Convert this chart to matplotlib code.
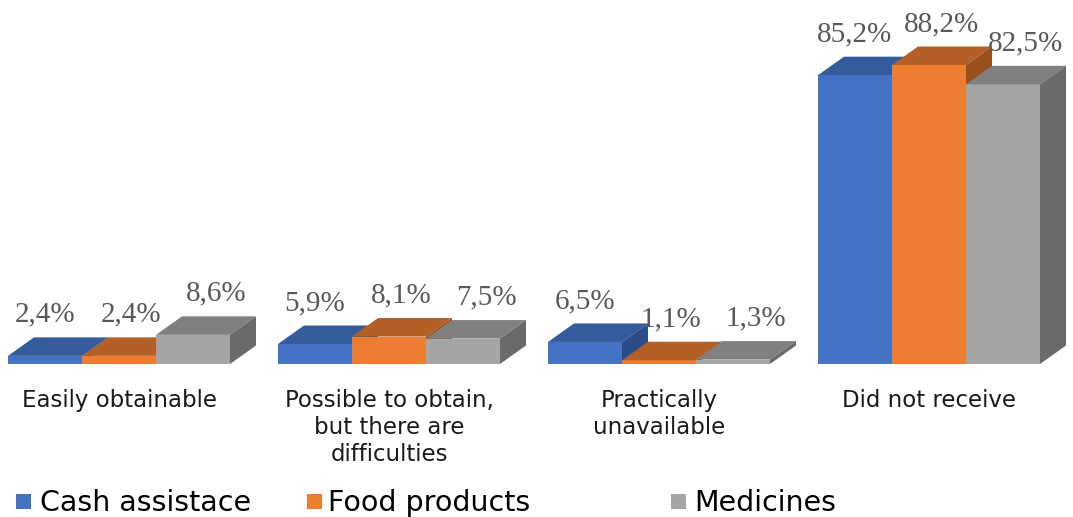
import matplotlib.pyplot as plt
from matplotlib.patches import Polygon, Rectangle

# dane z wykresu
kategorie = ['Easily obtainable', 'Possible to obtain,\nbut there are\ndifficulties',
             'Practically\nunavailable', 'Did not receive']
serie = ['Cash assistace', 'Food products', 'Medicines']
cash = [2.4, 5.9, 6.5, 85.2]
food = [2.4, 8.1, 1.1, 88.2]
medicines = [8.6, 7.5, 1.3, 82.5]
etykiety_cash = ['2,4%', '5,9%', '6,5%', '85,2%']
etykiety_food = ['2,4%', '8,1%', '1,1%', '88,2%']
etykiety_med = ['8,6%', '7,5%', '1,3%', '82,5%']

wartosci = [cash, food, medicines]
etykiety = [etykiety_cash, etykiety_food, etykiety_med]

# kolory: przód, góra, bok
kolory = [('#4472C4', '#345C9C', '#2C4C87'),
          ('#ED7D31', '#B45F25', '#9A501D'),
          ('#A5A5A5', '#808080', '#6A6A6A')]

szer = 74 / 270          # szerokość słupka
dx = 26 / 270            # głębokość 3D w poziomie
dy = 18.5 / 3.39         # głębokość 3D w pionie (w %)
przes_etykiet = [0.0, 0.045, 0.085]

fig = plt.figure(figsize=(10.73, 5.17), dpi=100)
ax = fig.add_axes([0, 0, 1, 1])
ax.set_xlim(-119 / 270, (1073 - 119) / 270)
ax.set_ylim(-(517 - 364) / 3.39, 364 / 3.39)
ax.axis('off')

for s in range(3):
    front, gora, bok = kolory[s]
    z = 2 + s
    xs = [i + (s - 1) * szer for i in range(len(kategorie))]
    ax.bar(xs, wartosci[s], width=szer, color=front, zorder=z, linewidth=0)
    for x, h, lab in zip(xs, wartosci[s], etykiety[s]):
        x0, x1 = x - szer / 2, x + szer / 2
        ax.add_patch(Polygon([(x0, h), (x1, h), (x1 + dx, h + dy), (x0 + dx, h + dy)],
                             closed=True, facecolor=gora, edgecolor='none', zorder=z + 0.1))
        ax.add_patch(Polygon([(x1, 0), (x1 + dx, dy), (x1 + dx, h + dy), (x1, h)],
                             closed=True, facecolor=bok, edgecolor='none', zorder=z + 0.1))
        ax.text(x + przes_etykiet[s], h + dy + 2.8, lab, ha='center', va='bottom',
                family='Liberation Serif', fontsize=21, color='#595959', zorder=10)

for i, kat in enumerate(kategorie):
    ax.text(i, -7.5, kat, ha='center', va='top', fontsize=16.5, family='DejaVu Sans',
            color='#1a1a1a', linespacing=1.22)

# legenda
leg_x = [16, 307, 671]
leg_tekst_x = [40, 328, 694]
for s in range(3):
    fig.patches.append(Rectangle((leg_x[s] / 1073, 8 / 517), 15 / 1073, 15 / 517,
                                 transform=fig.transFigure, facecolor=kolory[s][0],
                                 edgecolor='none'))
    fig.text(leg_tekst_x[s] / 1073, 14 / 517, serie[s], ha='left', va='center',
             fontsize=20.5, family='DejaVu Sans', color='#000000')

plt.savefig('out.png')
